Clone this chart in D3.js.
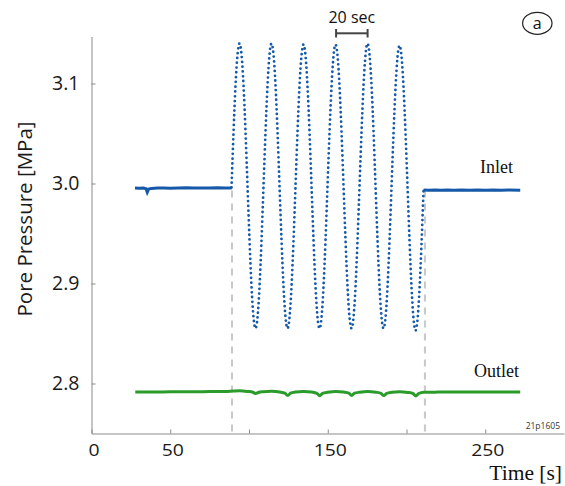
<!DOCTYPE html>
<html><head><meta charset="utf-8">
<script src="https://cdn.jsdelivr.net/npm/d3@7"></script>
<style>
html,body{margin:0;padding:0;background:#fff;}
svg{display:block;}
</style></head><body>
<svg id="chart" width="565" height="486"></svg>
<script>
// ---- data ----
const xTickValues = [0, 50, 100, 150, 200, 250];
const xTickLabels = ["0", "50", "", "150", "", "250"];
const yTickValues = [2.8, 2.9, 3.0, 3.1];
const yTickLabels = ["2.8", "2.9", "3.0", "3.1"];
const eventTimes = [89.2, 211.7];
const scaleBarTimes = [155.3, 175.3];
const scaleBarLabel = "20 sec";

const inletPreTime  = [27.6, 30, 33, 34.6, 35.4, 36.3, 38, 42, 46, 50, 55, 60, 65, 70, 75, 80, 85, 88.9];
const inletPreValue = [2.9955, 2.9953, 2.9955, 2.9947, 2.9912, 2.9944, 2.9951, 2.9954, 2.9955, 2.9952, 2.9955, 2.9957, 2.9954, 2.9956, 2.9955, 2.9957, 2.9955, 2.9956];

const inletOscTime = [88.90, 91.44, 93.98, 96.52, 99.06, 101.60, 104.14, 106.68,
  109.22, 111.76, 114.30, 116.84, 119.38, 121.92, 124.46, 127.00,
  129.54, 132.08, 134.62, 137.16, 139.70, 142.24, 144.78, 147.32,
  149.86, 152.40, 154.94, 157.48, 160.02, 162.56, 165.10, 167.64,
  170.18, 172.72, 175.26, 177.80, 180.34, 182.88, 185.42, 187.96,
  190.50, 193.04, 195.58, 198.12, 200.66, 203.20, 205.74, 208.28, 210.82];
const inletOscValue = [2.9960, 3.098, 3.140, 3.098, 2.9975, 2.897, 2.855, 2.897,
  2.9975, 3.098, 3.140, 3.098, 2.9975, 2.897, 2.855, 2.897,
  2.9975, 3.098, 3.139, 3.097, 2.9975, 2.897, 2.855, 2.897,
  2.9975, 3.097, 3.139, 3.097, 2.9975, 2.897, 2.855, 2.897,
  2.9975, 3.098, 3.140, 3.098, 2.9975, 2.897, 2.855, 2.897,
  2.9970, 3.096, 3.138, 3.096, 2.9965, 2.896, 2.853, 2.895, 2.9935];

const inletPostTime  = [210.82, 214, 218, 222, 226, 230, 235, 240, 245, 250, 255, 260, 265, 272.2];
const inletPostValue = [2.9935, 2.9933, 2.9935, 2.9932, 2.9934, 2.9933, 2.9935, 2.9932, 2.9934, 2.9933, 2.9935, 2.9932, 2.9934, 2.9933];

const outletTime = [27.8, 35, 45, 55, 65, 75, 85, 90, 94, 99, 102.5, 104.3, 106.2, 109, 114.3, 119.5,
  122.8, 124.6, 126.4, 129.5, 134.6, 139.8, 143.1, 144.9, 146.7, 150, 155, 160,
  163.4, 165.2, 167.0, 170.3, 175.3, 180.5, 183.8, 185.6, 187.4, 190.7, 195.6, 200.8,
  204.1, 205.9, 207.7, 211, 220, 230, 240, 250, 260, 272.2];
const outletValue = [2.7915, 2.7916, 2.7915, 2.7918, 2.7917, 2.7919, 2.7920, 2.7925, 2.7928, 2.7921, 2.7912, 2.7900, 2.7912, 2.7918, 2.7922, 2.7915,
  2.7903, 2.7879, 2.7903, 2.7914, 2.7921, 2.7914, 2.7902, 2.7878, 2.7902, 2.7913, 2.7921, 2.7914,
  2.7903, 2.7880, 2.7903, 2.7913, 2.7920, 2.7913, 2.7902, 2.7879, 2.7902, 2.7912, 2.7918, 2.7911,
  2.7900, 2.7876, 2.7900, 2.7912, 2.7914, 2.7915, 2.7914, 2.7915, 2.7914, 2.7914];

// ---- chart ----
const svg = d3.select("#chart");
const x = d3.scaleLinear().domain([0, 300]).range([91.5, 564]);
const y = d3.scaleLinear().domain([2.75, 3.147]).range([433.5, 36.5]);
const axisColor = "#8a8a8a";
const sans = "'Open Sans', 'Noto Sans', sans-serif";
const serif = "'Liberation Serif', 'DejaVu Serif', serif";

// event dashed lines
svg.append("g").selectAll("line").data(eventTimes).join("line")
  .attr("x1", d => x(d)).attr("x2", d => x(d))
  .attr("y1", y(2.993)).attr("y2", y(2.75))
  .attr("stroke", "#c8c8c8").attr("stroke-width", 2).attr("stroke-dasharray", "7,6");

// axes
const gx = svg.append("g").attr("transform", "translate(0,433.5)")
  .call(d3.axisBottom(x).tickValues(xTickValues).tickFormat((d, i) => xTickLabels[i])
    .tickSizeInner(-4).tickSizeOuter(0).tickPadding(11));
gx.select(".domain").attr("stroke", axisColor);
gx.selectAll(".tick line").attr("stroke", axisColor);
gx.selectAll(".tick text").attr("font-family", sans).attr("font-size", 15.5)
  .attr("fill", "#1a1a1a").attr("transform", "scale(1.25,1)").attr("dx", 1.6);

const gy = svg.append("g").attr("transform", "translate(91.5,0)")
  .call(d3.axisLeft(y).tickValues(yTickValues).tickFormat((d, i) => yTickLabels[i])
    .tickSizeInner(-4).tickSizeOuter(0).tickPadding(12));
gy.select(".domain").attr("stroke", axisColor);
gy.selectAll(".tick line").attr("stroke", axisColor);
gy.selectAll(".tick text").attr("font-family", sans).attr("font-size", 19.5).attr("fill", "#1a1a1a");

// series
const pts = (ts, vs) => ts.map((t, i) => ({t, v: vs[i]}));
const lineLin = d3.line().x(d => x(d.t)).y(d => y(d.v));
const lineSmooth = d3.line().x(d => x(d.t)).y(d => y(d.v)).curve(d3.curveNatural);
const lineMono = d3.line().x(d => x(d.t)).y(d => y(d.v)).curve(d3.curveMonotoneX);
const inletColor = "#1659a8", outletColor = "#2b9b2b";

svg.append("path").attr("d", lineMono(pts(outletTime, outletValue)))
  .attr("fill", "none").attr("stroke", outletColor).attr("stroke-width", 3);

svg.append("path").attr("d", lineLin(pts(inletPreTime, inletPreValue)))
  .attr("fill", "none").attr("stroke", inletColor).attr("stroke-width", 3);
svg.append("path").attr("d", lineLin(pts(inletPostTime, inletPostValue)))
  .attr("fill", "none").attr("stroke", inletColor).attr("stroke-width", 3);
svg.append("path").attr("d", lineSmooth(pts(inletOscTime, inletOscValue)))
  .attr("fill", "none").attr("stroke", inletColor).attr("stroke-width", 2.8)
  .attr("stroke-linecap", "round").attr("stroke-dasharray", "0,4.8");

// series labels
svg.append("text").attr("x", 480).attr("y", 172.5).text("Inlet")
  .attr("font-family", serif).attr("font-size", 18).attr("fill", "#111");
svg.append("text").attr("x", 474).attr("y", 376.5).text("Outlet")
  .attr("font-family", serif).attr("font-size", 18).attr("fill", "#111");

// axis titles
svg.append("text").attr("transform", "translate(32,219) rotate(-90)")
  .attr("text-anchor", "middle").text("Pore Pressure [MPa]")
  .attr("font-family", sans).attr("font-size", 20.5).attr("fill", "#1a1a1a");
svg.append("text").attr("x", 562).attr("y", 480).attr("text-anchor", "end").text("Time [s]")
  .attr("font-family", serif).attr("font-size", 21.5).attr("fill", "#111");

// scale bar
const sb = svg.append("g").attr("stroke", "#444").attr("stroke-width", 2);
sb.append("line").attr("x1", x(scaleBarTimes[0])).attr("x2", x(scaleBarTimes[1])).attr("y1", 33.3).attr("y2", 33.3);
sb.selectAll(".cap").data(scaleBarTimes).join("line").attr("class", "cap")
  .attr("x1", d => x(d)).attr("x2", d => x(d)).attr("y1", 29).attr("y2", 37.5);
svg.append("text").attr("x", (x(scaleBarTimes[0]) + x(scaleBarTimes[1])) / 2).attr("y", 23.3)
  .attr("text-anchor", "middle").text(scaleBarLabel)
  .attr("font-family", sans).attr("font-size", 16).attr("fill", "#111");

// panel marker
svg.append("ellipse").attr("cx", 537.3).attr("cy", 23.3).attr("rx", 14.7).attr("ry", 11)
  .attr("fill", "none").attr("stroke", "#222").attr("stroke-width", 1.2);
svg.append("text").attr("x", 537.3).attr("y", 28.8).attr("text-anchor", "middle").text("a")
  .attr("font-family", sans).attr("font-size", 16).attr("fill", "#111");

// file id
svg.append("text").attr("x", 560).attr("y", 429).attr("text-anchor", "end").text("21p1605")
  .attr("font-family", sans).attr("font-size", 8.5).attr("fill", "#333");
</script>
</body></html>
